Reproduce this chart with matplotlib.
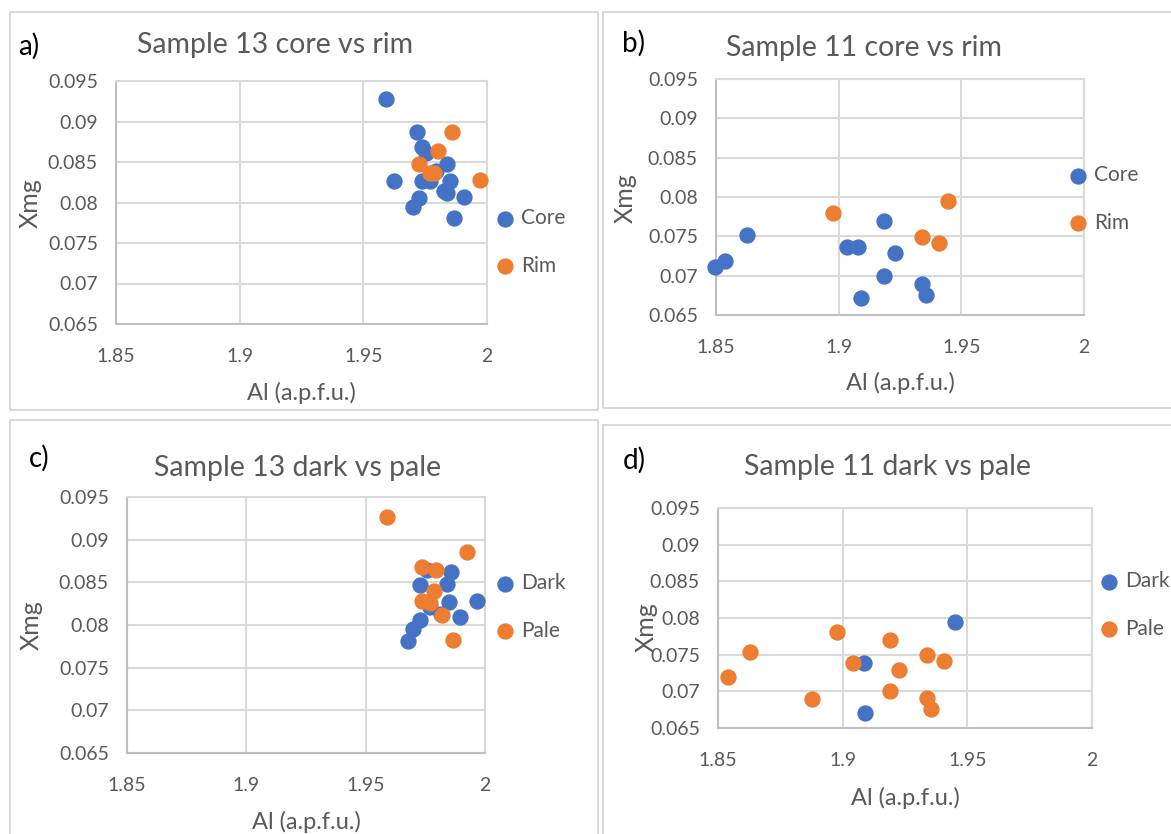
import matplotlib
matplotlib.use('Agg')

import matplotlib.pyplot as plt
from matplotlib.patches import Rectangle

# Sample 13, core vs rim
a_core_x = [1.959, 1.9717, 1.9738, 1.9755, 1.9837, 1.9625, 1.9737, 1.977, 1.9794, 1.985,
            1.9825, 1.9837, 1.9907, 1.9727, 1.970, 1.9868]
a_core_y = [0.0928, 0.0887, 0.0869, 0.0861, 0.0847, 0.0827, 0.0827, 0.0826, 0.0839, 0.0827,
            0.0814, 0.0812, 0.0807, 0.0806, 0.0794, 0.0781]
a_rim_x = [1.986, 1.980, 1.9727, 1.977, 1.9786, 1.997]
a_rim_y = [0.0887, 0.0863, 0.0847, 0.0837, 0.0836, 0.0828]

# Sample 11, core vs rim
b_core_x = [1.8497, 1.8537, 1.8625, 1.9034, 1.908, 1.9186, 1.9231, 1.9186, 1.9089, 1.9339, 1.9356]
b_core_y = [0.0711, 0.0719, 0.0752, 0.0737, 0.0737, 0.0770, 0.0729, 0.0700, 0.0671, 0.0689, 0.0676]
b_rim_x = [1.8977, 1.9447, 1.9339, 1.9408]
b_rim_y = [0.0780, 0.0795, 0.0749, 0.0742]

# Sample 13, dark vs pale
c_dark_x = [1.9859, 1.9755, 1.9728, 1.984, 1.9968, 1.9848, 1.9771, 1.9817, 1.9894, 1.9728,
            1.9699, 1.9678]
c_dark_y = [0.0862, 0.0864, 0.0847, 0.0848, 0.0828, 0.0827, 0.0821, 0.0813, 0.0809, 0.0806,
            0.0795, 0.0781]
c_pale_x = [1.959, 1.9926, 1.9737, 1.9796, 1.9787, 1.9737, 1.9771, 1.9819, 1.9867]
c_pale_y = [0.0927, 0.0885, 0.0868, 0.0864, 0.0840, 0.0828, 0.0826, 0.0812, 0.0783]

# Sample 11, dark vs pale
d_dark_x = [1.9084, 1.909, 1.945]
d_dark_y = [0.0739, 0.0671, 0.0795]
d_pale_x = [1.8539, 1.8628, 1.8878, 1.8977, 1.9041, 1.9189, 1.9226, 1.9189, 1.934, 1.9408,
            1.934, 1.9355]
d_pale_y = [0.0719, 0.0753, 0.0689, 0.0781, 0.0739, 0.0770, 0.0729, 0.0701, 0.0749, 0.0742,
            0.0691, 0.0676]

x_ticks = [1.85, 1.9, 1.95, 2.0]
x_tick_labels = ['1.85', '1.9', '1.95', '2']
y_ticks = [0.065, 0.07, 0.075, 0.08, 0.085, 0.09, 0.095]
y_tick_labels = ['0.065', '0.07', '0.075', '0.08', '0.085', '0.09', '0.095']

BLUE = '#4472C4'
ORANGE = '#ED7D31'
GRID = '#D9D9D9'
TXT = '#595959'

plt.rcParams['font.family'] = ['Lato', 'DejaVu Sans']

W, H = 1171, 834
fig = plt.figure(figsize=(W / 100, H / 100), dpi=100)


def fx(px):
    return px / W


def fy(py):
    return 1 - py / H


def panel(frame, box, tag, tag_xy, title, title_xy, s1, s2, names,
          leg_xy, ylab_xy, xlab_y):
    # chart frame (Excel chart border)
    x0, y0, x1, y1 = frame
    fig.patches.append(Rectangle((fx(x0), fy(y1)), fx(x1 - x0), (y1 - y0) / H,
                                 transform=fig.transFigure, fill=False,
                                 edgecolor=GRID, linewidth=1.5))
    l, t, r, b = box
    ax = fig.add_axes([fx(l), fy(b), fx(r - l), (b - t) / H])
    ax.scatter(s1[0], s1[1], s=115, color=BLUE, label=names[0], zorder=3, clip_on=False)
    ax.scatter(s2[0], s2[1], s=115, color=ORANGE, label=names[1], zorder=3, clip_on=False)
    ax.set_xlim(1.85, 2.0)
    ax.set_ylim(0.065, 0.095)
    ax.set_xticks(x_ticks)
    ax.set_xticklabels(x_tick_labels)
    ax.set_yticks(y_ticks)
    ax.set_yticklabels(y_tick_labels)
    ax.tick_params(length=0, labelsize=14, colors=TXT)
    ax.tick_params(axis='x', pad=17)
    ax.tick_params(axis='y', pad=13)
    ax.grid(True, color=GRID, linewidth=1.5)
    ax.set_axisbelow(True)
    for sp in ax.spines.values():
        sp.set_color(GRID)
        sp.set_linewidth(1.5)
    ax.spines['left'].set_color('#BFBFBF')
    ax.spines['bottom'].set_color('#BFBFBF')

    fig.text(fx(tag_xy[0]), fy(tag_xy[1]), tag, fontsize=20, color='black',
             ha='center', va='center')
    fig.text(fx(title_xy[0]), fy(title_xy[1]), title, fontsize=20.5, color=TXT,
             ha='center', va='center')
    fig.text(fx(ylab_xy[0]), fy(ylab_xy[1]), 'Xmg', fontsize=18, color=TXT,
             ha='center', va='center', rotation=90)
    fig.text(fx((l + r) / 2), fy(xlab_y), 'Al (a.p.f.u.)', fontsize=17, color=TXT,
             ha='center', va='center')
    ax.legend(loc='center left', bbox_to_anchor=(fx(leg_xy[0]), fy(leg_xy[1])),
              bbox_transform=fig.transFigure, frameon=False, fontsize=15,
              labelcolor=TXT, handlelength=0.8, handletextpad=0.35,
              labelspacing=1.3, borderaxespad=0, borderpad=0)
    return ax


panel((10, 12, 598, 410), (116, 81, 487, 324), 'a)', (29, 46),
      'Sample 13 core vs rim', (275, 45), (a_core_x, a_core_y), (a_rim_x, a_rim_y),
      ['Core', 'Rim'], (497, 242), (30, 203), 393)
panel((603, 12, 1180, 408), (716, 79, 1084, 315), 'b)', (634, 43),
      'Sample 11 core vs rim', (864, 48), (b_core_x, b_core_y), (b_rim_x, b_rim_y),
      ['Core', 'Rim'], (1070, 199), (625, 198), 383)
panel((10, 420, 598, 840), (127, 497, 485, 753), 'c)', (39, 458),
      'Sample 13 dark vs pale', (298, 468), (c_dark_x, c_dark_y), (c_pale_x, c_pale_y),
      ['Dark', 'Pale'], (497, 607), (31, 625), 822)
panel((603, 425, 1180, 840), (718, 508, 1092, 728), 'd)', (634, 460),
      'Sample 11 dark vs pale', (888, 467), (d_dark_x, d_dark_y), (d_pale_x, d_pale_y),
      ['Dark', 'Pale'], (1101, 605), (646, 627), 798)

fig.savefig('out.png', dpi=100, facecolor='white')
